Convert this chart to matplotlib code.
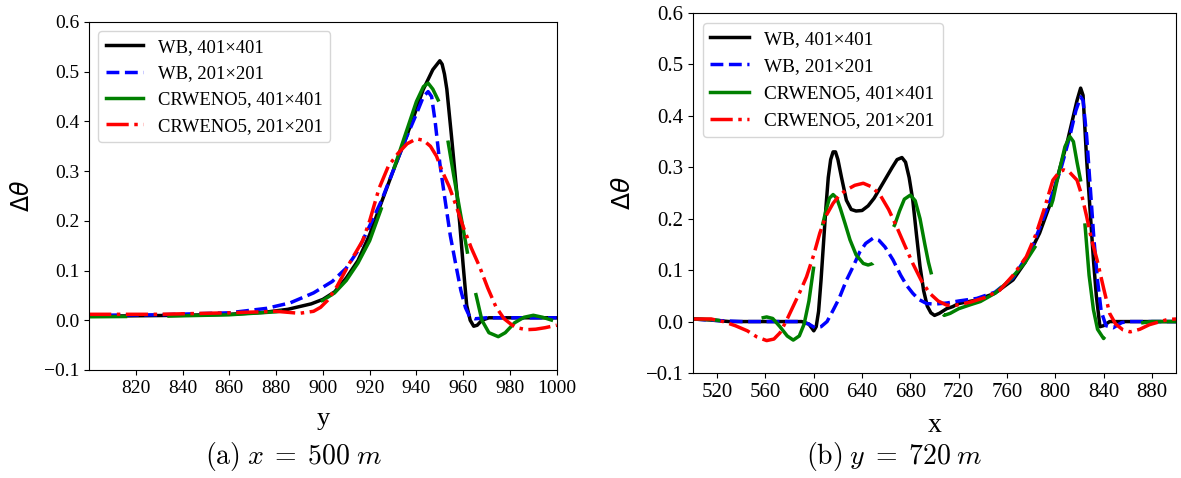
import numpy as np
import matplotlib
matplotlib.use("Agg")
import matplotlib.pyplot as plt

plt.rcParams["font.family"] = "serif"
plt.rcParams["font.serif"] = ["Liberation Serif", "DejaVu Serif"]
plt.rcParams["axes.unicode_minus"] = True

labels = ["WB, 401×401", "WB, 201×201", "CRWENO5, 401×401", "CRWENO5, 201×201"]

# (a) x = 500 m, profile along y
ya_wb401 = [800, 820, 840, 860, 875, 885, 895, 900, 905, 910, 915, 920, 924.4, 930, 935,
            940, 942.8, 947, 950, 951, 952, 953, 955, 957, 958.5, 960, 961.5, 963, 964.5,
            966, 968, 971, 980, 1000]
va_wb401 = [0.008, 0.009, 0.010, 0.012, 0.016, 0.022, 0.033, 0.042, 0.057, 0.085, 0.12,
            0.172, 0.229, 0.30, 0.36, 0.425, 0.463, 0.504, 0.522, 0.515, 0.495, 0.465,
            0.37, 0.27, 0.196, 0.11, 0.03, 0.0, -0.012, -0.01, 0.0, 0.005, 0.005, 0.005]

ya_wb201 = [800, 830, 860, 876, 886, 896, 904, 910, 915, 920, 925, 930, 935, 940, 943,
            945, 946.5, 948, 950, 952, 954.5, 957, 959, 961, 962.8, 965, 970, 1000]
va_wb201 = [0.010, 0.011, 0.015, 0.024, 0.035, 0.055, 0.078, 0.105, 0.14, 0.19, 0.24,
            0.30, 0.36, 0.415, 0.45, 0.46, 0.45, 0.40, 0.316, 0.25, 0.17, 0.108, 0.06,
            0.025, 0.007, 0.003, 0.005, 0.005]

ya_cr401 = [800, 830, 860, 880, 890, 900, 905, 910, 915, 920, 925, 930, 935, 940, 943,
            945, 947, 949.6, 951.5, 953.4, 956, 959, 962, 964, 965.7, 968, 971, 975, 978,
            982, 986, 990, 994, 1000]
va_cr401 = [0.007, 0.008, 0.011, 0.017, 0.024, 0.04, 0.055, 0.08, 0.115, 0.16, 0.225,
            0.30, 0.37, 0.44, 0.47, 0.477, 0.465, 0.44, 0.40, 0.363, 0.29, 0.21, 0.131,
            0.08, 0.047, 0.0, -0.025, -0.033, -0.025, -0.005, 0.006, 0.01, 0.006, -0.003]

ya_cr201 = [800, 830, 860, 880, 890, 896, 899, 902, 906, 912, 917, 920, 924, 928, 932,
            936, 940, 943, 946, 948.6, 951, 954, 957, 960, 963.5, 967, 970.5, 974, 977.5,
            981, 984, 987, 991, 995, 1000]
va_cr201 = [0.012, 0.012, 0.015, 0.018, 0.014, 0.018, 0.026, 0.04, 0.068, 0.12, 0.16,
            0.2, 0.265, 0.31, 0.335, 0.355, 0.365, 0.362, 0.35, 0.33, 0.30, 0.269, 0.23,
            0.188, 0.145, 0.108, 0.065, 0.027, 0.003, -0.01, -0.016, -0.019, -0.018,
            -0.015, -0.01]

# (b) y = 720 m, profile along x
xb_wb401 = [500, 515, 530, 560, 590, 596, 600, 602, 604, 606, 608, 610, 612, 614, 616,
            618, 620, 623, 627, 631, 635, 640, 645, 650, 655, 660, 665, 669, 673, 676,
            679, 682, 685, 688, 691, 694, 697, 700, 704, 710, 715, 720, 735, 750, 765,
            775, 787, 796, 804, 810, 814, 818, 821, 823, 826, 829, 831.6, 834, 837, 840,
            845, 900]
vb_wb401 = [0.005, 0.003, 0.0, 0.0, 0.0, -0.005, -0.018, -0.01, 0.02, 0.08, 0.15, 0.22,
            0.28, 0.315, 0.33, 0.33, 0.315, 0.28, 0.236, 0.218, 0.215, 0.216, 0.225,
            0.24, 0.26, 0.28, 0.30, 0.315, 0.319, 0.31, 0.28, 0.236, 0.17, 0.107, 0.06,
            0.03, 0.017, 0.012, 0.016, 0.025, 0.029, 0.035, 0.042, 0.055, 0.081, 0.115,
            0.172, 0.23, 0.30, 0.35, 0.39, 0.43, 0.454, 0.44, 0.314, 0.21, 0.12, 0.05,
            -0.01, -0.008, 0.0, 0.0]

xb_wb201 = [500, 520, 540, 590, 596, 601, 606, 611, 616, 621, 627, 632.6, 638, 643, 649,
            654, 659, 665.6, 672, 677, 682, 687, 693.5, 700, 710, 720, 735, 750, 765, 780,
            795, 805, 812, 817, 821, 823, 826, 829, 832, 835, 838, 842, 848, 855, 860, 900]
vb_wb201 = [0.005, 0.002, 0.0, 0.0, -0.005, -0.012, -0.01, 0.0, 0.022, 0.045, 0.08,
            0.107, 0.135, 0.152, 0.162, 0.158, 0.145, 0.12, 0.09, 0.07, 0.055, 0.043,
            0.035, 0.034, 0.036, 0.04, 0.045, 0.057, 0.085, 0.14, 0.23, 0.30, 0.36, 0.41,
            0.437, 0.43, 0.36, 0.26, 0.16, 0.08, 0.02, -0.008, -0.012, -0.002, 0.0, 0.0]

xb_cr401 = [500, 515, 530, 545, 555, 561, 566, 572, 578, 583, 588, 592, 596, 600, 604,
            607, 610, 613, 616, 619, 622, 626, 630, 635, 641, 645, 649, 655, 660, 664,
            667, 671, 675, 680, 684, 688, 692, 695, 698, 701, 704, 708, 713, 720, 730,
            738, 750, 762, 775, 787, 793, 798, 803, 808, 812, 815, 818, 822, 825, 828,
            831.6, 835, 840, 845, 850, 860, 870, 880, 900]
vb_cr401 = [0.005, 0.004, 0.0, 0.0, 0.006, 0.009, 0.006, -0.01, -0.028, -0.036, -0.028,
            -0.005, 0.04, 0.107, 0.16, 0.185, 0.215, 0.24, 0.247, 0.24, 0.22, 0.19,
            0.159, 0.13, 0.113, 0.11, 0.113, 0.13, 0.155, 0.175, 0.188, 0.215, 0.238,
            0.246, 0.235, 0.2, 0.15, 0.115, 0.087, 0.055, 0.025, 0.012, 0.016, 0.025,
            0.033, 0.039, 0.055, 0.08, 0.115, 0.159, 0.2, 0.236, 0.29, 0.34, 0.36, 0.35,
            0.31, 0.262, 0.177, 0.09, 0.023, -0.015, -0.033, -0.016, -0.006, -0.003,
            -0.003, 0.0, 0.0]

xb_cr201 = [500, 515, 525, 535, 545, 553, 561, 567, 572, 577.6, 583, 589, 594, 600, 605,
            610, 616, 621, 627, 634, 641, 648, 655, 662, 668.7, 675, 682, 689, 696, 703,
            710, 718, 730, 742, 754, 765, 776, 784, 791, 798, 803, 807, 812, 818, 822,
            826, 830, 834.6, 840, 845, 850, 856, 862, 870, 878, 887, 893, 900]
vb_cr201 = [0.005, 0.005, 0.0, -0.008, -0.018, -0.03, -0.037, -0.034, -0.022, 0.003,
            0.03, 0.06, 0.087, 0.13, 0.172, 0.205, 0.23, 0.245, 0.256, 0.265, 0.269,
            0.262, 0.246, 0.218, 0.184, 0.15, 0.113, 0.08, 0.055, 0.04, 0.032, 0.032,
            0.038, 0.047, 0.061, 0.09, 0.126, 0.17, 0.22, 0.275, 0.29, 0.295, 0.29, 0.275,
            0.245, 0.204, 0.16, 0.12, 0.065, 0.016, -0.005, -0.016, -0.02, -0.015, -0.006,
            0.0, 0.004, 0.005]

lw = 2.5


def green_style(ax, xs, vs, gap_at, dash_on, dash_off):
    # phase the long dashes (pixels) so that a gap starts at x = gap_at
    pts = ax.transData.transform(np.column_stack([xs, vs]))
    s = np.concatenate([[0], np.cumsum(np.hypot(*np.diff(pts, axis=0).T))])
    s0 = np.interp(gap_at, xs, s)
    off = (dash_on - s0) % (dash_on + dash_off)
    k = 0.72 / lw  # px -> linewidth units
    return (off * k, (dash_on * k, dash_off * k))


def draw(ax, series, green_ls):
    styles = ["-", "--", green_ls, "-."]
    colors = ["k", "b", "g", "r"]
    for i, (xs, vs) in enumerate(series):
        ax.plot(xs, vs, color=colors[i], lw=lw, ls=styles[i], label=labels[i])


fig = plt.figure(figsize=(11.81, 4.78), dpi=100)

# left panel
ax1 = fig.add_axes([0.0754, 0.226, 0.396, 0.728])
ax1.set_xlim(800, 1000)
ax1.set_ylim(-0.1, 0.6)
draw(ax1, [(ya_wb401, va_wb401), (ya_wb201, va_wb201),
           (ya_cr401, va_cr401), (ya_cr201, va_cr201)],
     green_style(ax1, ya_cr401, va_cr401, 949.6, 115.0, 40.0))
ax1.set_xticks(np.arange(820, 1001, 20))
ax1.set_yticks(np.arange(-0.1, 0.61, 0.1))
ax1.tick_params(labelsize=14)
ax1.set_xlabel("y", fontsize=19, labelpad=8)
ax1.set_ylabel(r"$\Delta\theta$", fontsize=17, math_fontfamily="dejavusans")
ax1.yaxis.set_label_coords(-0.118, 0.5)
leg1 = ax1.legend(loc="upper left", fontsize=13.4, handlelength=2.0)
leg1.get_lines()[2].set_linestyle("-")

# right panel
ax2 = fig.add_axes([0.5868, 0.2197, 0.409, 0.753])
ax2.set_xlim(500, 900)
ax2.set_ylim(-0.1, 0.6)
draw(ax2, [(xb_wb401, vb_wb401), (xb_wb201, vb_wb201),
           (xb_cr401, vb_cr401), (xb_cr201, vb_cr201)],
     green_style(ax2, xb_cr401, vb_cr401, 600, 120.0, 42.0))
ax2.set_xticks(np.arange(520, 881, 40))
ax2.set_yticks(np.arange(-0.1, 0.61, 0.1))
ax2.tick_params(labelsize=15)
ax2.set_xlabel("x", fontsize=20, labelpad=8)
ax2.set_ylabel(r"$\Delta\theta$", fontsize=18, math_fontfamily="dejavusans")
ax2.yaxis.set_label_coords(-0.12, 0.5)
leg2 = ax2.legend(loc="upper left", fontsize=13.9, handlelength=2.0)
leg2.get_lines()[2].set_linestyle("-")

fig.text(0.249, 0.046, r"$\mathrm{(a)}\;x\;=\;500\;m$", fontsize=20,
         math_fontfamily="cm", ha="center", va="center")
fig.text(0.757, 0.044, r"$\mathrm{(b)}\;y\;=\;720\;m$", fontsize=20,
         math_fontfamily="cm", ha="center", va="center")

fig.savefig("out.png", dpi=100)
